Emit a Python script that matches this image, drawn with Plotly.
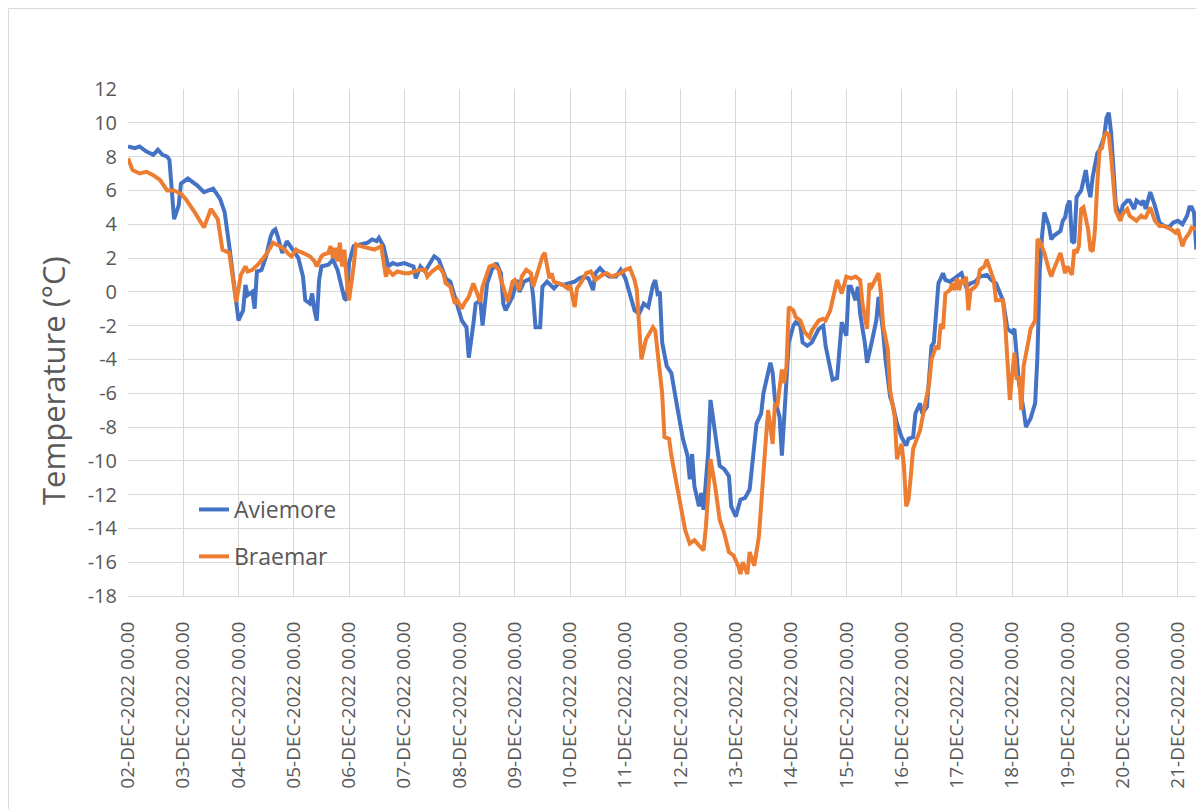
import pandas as pd
import plotly.graph_objects as go

START = pd.Timestamp("2022-12-02 00:00")

# (hours since 02-DEC-2022 00.00, temperature degC)
aviemore_readings = [
    (0, 8.6), (3, 8.5), (5, 8.6), (8, 8.3), (11, 8.1), (13, 8.4), (15, 8.1), (17, 8.0),
    (18, 7.8), (20, 4.3), (22, 5.1), (23, 6.4), (26, 6.7), (30, 6.3), (33, 5.9), (37, 6.1),
    (40, 5.5), (42, 4.7), (44, 2.7), (46, 0.7), (48, -1.7), (50, -1.1), (51, 0.4), (52, -0.2),
    (54, 0.0), (55, -1.0), (56, 1.2), (58, 1.3), (60, 2.1), (62, 3.3), (63, 3.6), (64, 3.7),
    (65, 3.3), (67, 2.3), (69, 3.0), (71, 2.6), (73, 2.2), (74, 2.0), (76, 0.9), (77, -0.5),
    (79, -0.7), (80, -0.1), (81, -1.1), (82, -1.7), (83, 0.7), (84, 1.5), (87, 1.6), (89, 1.9),
    (91, 1.3), (92, 0.7), (94, -0.4), (95, -0.5), (96, 1.7), (98, 2.7), (101, 2.8), (104, 2.9),
    (106, 3.1), (108, 3.0), (109, 3.2), (111, 2.7), (113, 1.5), (115, 1.7), (117, 1.6),
    (120, 1.7), (122, 1.6), (124, 1.5), (125, 0.8), (127, 1.5), (129, 1.2), (131, 1.7),
    (133, 2.1), (135, 1.9), (138, 0.8), (140, 0.6), (143, -0.7), (145, -1.7), (147, -2.1),
    (148, -3.9), (150, -1.9), (151, -0.7), (153, -0.5), (154, -2.0), (156, 0.5), (158, 1.3),
    (160, 1.7), (162, 1.1), (163, -0.7), (164, -1.1), (167, -0.3), (169, 0.7), (170, 0.0),
    (172, 0.6), (175, 0.8), (176, -0.3), (177, -2.1), (179, -2.1), (180, 0.3), (182, 0.6),
    (185, 0.2), (187, 0.5), (189, 0.4), (192, 0.5), (194, 0.6), (196, 0.8), (198, 0.9),
    (200, 0.8), (202, 0.1), (203, 1.1), (205, 1.4), (207, 1.1), (209, 0.9), (212, 0.9),
    (214, 1.3), (216, 0.8), (218, -0.1), (219, -0.7), (220, -1.1), (222, -1.3), (224, -0.7),
    (226, -0.9), (228, 0.4), (229, 0.7), (230, -0.1), (231, 0.0), (232, -3.0), (234, -4.4),
    (236, -4.8), (238, -6.4), (239, -7.2), (241, -8.7), (243, -9.7), (244, -11.1), (245, -9.6),
    (246, -11.5), (248, -12.7), (249, -11.9), (250, -12.9), (252, -9.5), (253, -6.4),
    (255, -8.4), (257, -10.3), (259, -10.5), (261, -10.9), (262, -12.7), (264, -13.3),
    (266, -12.3), (268, -12.2), (270, -11.7), (272, -8.7), (273, -7.8), (275, -7.2),
    (276, -6.0), (279, -4.2), (280, -4.8), (281, -6.4), (283, -7.4), (284, -9.7), (286, -5.6),
    (287, -3.0), (289, -2.0), (290, -1.8), (292, -2.0), (293, -3.0), (295, -3.2), (297, -3.0),
    (300, -2.2), (302, -2.0), (303, -3.2), (305, -4.4), (306, -5.2), (308, -5.1), (309, -3.6),
    (310, -1.8), (312, -2.6), (313, 0.3), (314, 0.3), (316, -0.5), (317, 0.3), (318, -1.3),
    (320, -3.0), (321, -4.2), (323, -3.0), (325, -1.7), (326, -0.3), (328, -2.4), (329, -4.0),
    (331, -6.2), (332, -6.6), (334, -7.8), (336, -8.6), (338, -9.1), (339, -8.7), (341, -8.6),
    (342, -7.2), (344, -6.6), (345, -7.2), (347, -6.8), (348, -5.0), (349, -3.2), (350, -3.0),
    (352, 0.5), (354, 1.1), (355, 0.7), (357, 0.6), (360, 0.9), (362, 1.1), (364, 0.3),
    (366, 0.5), (368, 0.6), (370, 0.9), (373, 1.0), (375, 0.7), (377, 0.5), (379, -0.1),
    (380, -0.5), (382, -2.2), (384, -2.4), (385, -2.2), (386, -3.6), (387, -5.4), (389, -7.0),
    (390, -8.0), (392, -7.5), (393, -7.0), (394, -6.6), (395, -3.8), (396, 1.3), (397, 3.3),
    (398, 4.7), (400, 3.9), (401, 3.1), (402, 3.3), (404, 3.5), (405, 3.6), (406, 4.2),
    (407, 4.4), (408, 5.1), (409, 5.4), (410, 3.0), (411, 2.9), (412, 5.6), (414, 6.0),
    (415, 6.6), (416, 7.2), (417, 6.2), (418, 5.6), (419, 6.8), (421, 8.2), (422, 8.4),
    (424, 9.2), (425, 10.3), (426, 10.6), (427, 9.4), (428, 7.4), (429, 5.2), (431, 4.4),
    (432, 5.1), (434, 5.4), (435, 5.4), (437, 4.9), (438, 5.4), (440, 5.2), (441, 5.4),
    (442, 4.9), (444, 5.9), (446, 5.1), (448, 4.1), (450, 3.9), (452, 3.8), (454, 4.1),
    (456, 4.2), (458, 4.0), (459, 4.2), (460, 4.5), (461, 5.0), (462, 5.0), (463, 4.7),
    (464, 2.5),
]

braemar_readings = [
    (0, 7.9), (2, 7.2), (5, 7.0), (8, 7.1), (11, 6.9), (14, 6.6), (17, 6.0), (20, 6.0),
    (23, 5.8), (25, 5.5), (29, 4.7), (33, 3.8), (36, 4.9), (39, 4.3), (41, 2.5), (44, 2.3),
    (47, -0.6), (49, 1.0), (51, 1.5), (52, 1.2), (54, 1.3), (57, 1.7), (60, 2.2), (63, 2.9),
    (66, 2.7), (68, 2.5), (70, 2.2), (71, 2.1), (73, 2.5), (74, 2.4), (76, 2.3), (79, 2.1),
    (81, 1.8), (82, 1.5), (84, 2.1), (85, 2.2), (87, 2.3), (88, 2.7), (89, 2.0), (90, 2.6),
    (91, 1.8), (92, 2.9), (93, 1.5), (94, 2.5), (95, 0.7), (96, -0.5), (98, 1.5), (99, 2.8),
    (101, 2.7), (104, 2.6), (107, 2.5), (110, 2.7), (112, 0.9), (113, 1.3), (115, 1.0),
    (117, 1.2), (120, 1.1), (122, 1.1), (124, 1.2), (127, 1.3), (129, 1.3), (130, 0.9),
    (132, 1.2), (135, 1.5), (137, 1.1), (138, 0.5), (140, 0.3), (142, -0.7), (143, -0.5),
    (145, -1.0), (146, -0.7), (148, -0.3), (150, 0.5), (151, 0.1), (153, -0.6), (154, 0.3),
    (156, 1.1), (157, 1.5), (159, 1.6), (161, 1.3), (162, 0.7), (164, -0.3), (165, -0.6),
    (167, 0.6), (168, 0.7), (170, 0.1), (171, 0.9), (173, 1.3), (175, 1.1), (176, 0.3),
    (178, 1.3), (180, 2.1), (181, 2.3), (183, 0.8), (184, 1.1), (185, 0.6), (187, 0.5),
    (189, 0.4), (191, 0.2), (192, 0.4), (194, -0.9), (195, 0.2), (197, 0.6), (199, 1.1),
    (201, 1.2), (203, 0.7), (206, 1.0), (208, 1.1), (210, 0.9), (212, 1.0), (214, 1.1),
    (216, 1.3), (218, 1.4), (220, 0.7), (221, 0.1), (222, -2.0), (223, -4.0), (225, -2.8),
    (226, -2.6), (228, -2.1), (229, -2.3), (230, -3.6), (232, -6.0), (233, -8.6), (235, -8.7),
    (236, -9.7), (238, -11.1), (240, -12.5), (242, -14.1), (244, -14.9), (246, -14.7),
    (248, -15.0), (250, -15.3), (251, -13.9), (253, -9.9), (255, -11.5), (257, -13.5),
    (259, -14.3), (261, -15.4), (263, -15.6), (265, -16.2), (266, -16.7), (267, -16.0),
    (269, -16.7), (270, -15.4), (272, -16.2), (274, -14.5), (276, -10.7), (277, -8.6),
    (278, -7.0), (280, -9.0), (281, -6.6), (282, -6.8), (283, -5.6), (284, -4.6), (285, -5.4),
    (286, -4.4), (287, -0.9), (289, -1.1), (290, -1.5), (292, -1.7), (294, -2.4), (296, -2.7),
    (297, -2.3), (300, -1.7), (302, -1.6), (303, -1.7), (305, -1.1), (306, -0.4), (308, 0.7),
    (310, -0.1), (312, 0.9), (314, 0.8), (316, 0.9), (318, 0.7), (319, -0.7), (321, -2.2),
    (322, 0.5), (323, 0.3), (326, 1.1), (327, -0.1), (328, -2.0), (330, -3.4), (331, -5.8),
    (333, -7.4), (334, -9.9), (336, -9.0), (337, -10.3), (338, -12.7), (339, -12.3),
    (340, -10.9), (341, -9.3), (344, -8.2), (345, -7.6), (346, -6.8), (348, -5.4), (349, -4.0),
    (351, -3.2), (352, -3.4), (353, -1.9), (354, -2.2), (355, -0.1), (357, 0.1), (358, 0.5),
    (359, 0.1), (360, 0.8), (361, 0.1), (362, 0.7), (363, 0.5), (364, 0.9), (365, -1.1),
    (366, 0.1), (368, 0.3), (369, 0.5), (370, 1.3), (372, 1.5), (373, 1.9), (374, 1.5),
    (376, 0.7), (377, -0.5), (379, -0.5), (380, -0.5), (381, -1.9), (383, -6.4), (384, -5.0),
    (385, -3.6), (386, -5.2), (387, -5.0), (388, -7.0), (389, -4.4), (391, -3.0), (392, -2.2),
    (394, -1.7), (395, 3.1), (396, 3.0), (398, 2.3), (400, 1.3), (401, 0.9), (402, 1.3),
    (404, 1.9), (405, 2.3), (407, 1.1), (408, 1.5), (410, 1.0), (411, 2.5), (412, 2.3),
    (413, 2.7), (414, 4.9), (415, 5.0), (417, 3.7), (418, 2.5), (419, 2.4), (420, 3.7),
    (421, 6.4), (422, 8.4), (423, 8.5), (424, 9.2), (425, 9.4), (426, 9.3), (427, 8.0),
    (428, 6.2), (429, 4.8), (431, 4.2), (432, 4.6), (434, 4.9), (435, 4.5), (437, 4.3),
    (438, 4.2), (440, 4.5), (441, 4.4), (442, 4.4), (444, 5.0), (446, 4.2), (448, 3.9),
    (450, 3.9), (453, 3.7), (455, 3.5), (456, 3.7), (458, 2.7), (459, 3.1), (461, 3.5),
    (462, 3.8), (464, 3.7),
]

tick_days = pd.date_range("2022-12-02", "2022-12-21", freq="D")
tick_labels = [d.strftime("%d-%b-%Y 00.00").upper() for d in tick_days]
y_ticks = list(range(-18, 13, 2))
y_tick_labels = [str(v) for v in y_ticks]

GRID = "#d9d9d9"
TEXT = "#595959"


def to_xy(readings):
    hours, temps = zip(*readings)
    times = START + pd.to_timedelta(list(hours), unit="h")
    return times, list(temps)


fig = go.Figure()

for name, readings, colour in [
    ("Aviemore", aviemore_readings, "#4472C4"),
    ("Braemar", braemar_readings, "#ED7D31"),
]:
    x, y = to_xy(readings)
    fig.add_trace(go.Scatter(
        x=x, y=y, mode="lines", name=name, legendgroup=name,
        line=dict(color=colour, width=4),
    ))

# the page body adds 8px round the figure, so the figure is 8px smaller
# plot area in figure pixels: x 120..1189, y 81..588
W_PLOT = 1069
H_PLOT = 507
L, T = 120, 81

fig.update_layout(
    width=1196, height=801,
    margin=dict(l=L, r=7, t=T, b=213),
    paper_bgcolor="white", plot_bgcolor="white",
    font=dict(family="Open Sans", color=TEXT, size=20),
    showlegend=True,
    legend=dict(
        x=(186 - L) / W_PLOT, y=(588 - 480) / H_PLOT,
        xanchor="left", yanchor="top",
        bgcolor="rgba(0,0,0,0)", font=dict(size=23, color=TEXT),
        tracegroupgap=14,
    ),
    shapes=[
        # outer chart border
        dict(type="rect", xref="paper", yref="paper",
             x0=-L / W_PLOT + 0.0005, x1=1.2, y0=-0.6, y1=(588 - 0.5) / H_PLOT,
             line=dict(color=GRID, width=1), layer="below"),
        # white legend box over gridlines
        dict(type="rect", xref="paper", yref="paper",
             x0=(142 - L) / W_PLOT, x1=(377 - L) / W_PLOT,
             y0=(588 - 577) / H_PLOT, y1=(588 - 477) / H_PLOT,
             fillcolor="white", line=dict(width=0), layer="between"),
    ],
    annotations=[
        dict(text="Temperature (°C)", textangle=-90, showarrow=False,
             xref="paper", yref="paper",
             x=(45 - L) / W_PLOT, y=(588 - 373) / H_PLOT,
             xanchor="center", yanchor="middle",
             font=dict(size=31, color=TEXT)),
    ],
)

fig.update_xaxes(
    type="date",
    range=[START, START + pd.Timedelta(hours=464.3)],
    tickvals=tick_days, ticktext=tick_labels, tickangle=-90,
    tickfont=dict(size=19, color=TEXT),
    showgrid=True, gridcolor=GRID, gridwidth=1,
    showline=True, linecolor=GRID, linewidth=1,
    ticks="", ticklabelstandoff=17,
)

fig.update_yaxes(
    range=[-18, 12], tickvals=y_ticks, ticktext=y_tick_labels,
    tickfont=dict(size=20, color=TEXT),
    showgrid=True, gridcolor=GRID, gridwidth=1, zeroline=False,
    showline=False, ticks="", ticklabelstandoff=10,
)

fig.write_html("out.html")
